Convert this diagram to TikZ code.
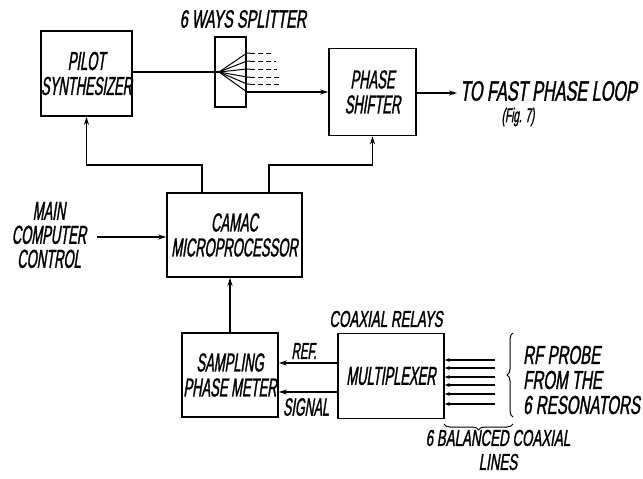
\documentclass[tikz,border=0pt]{standalone}
\usepackage{fontspec}
\setmainfont{Liberation Sans}[FakeSlant=0.15,FakeStretch=0.5,FakeBold=1.2]
\newfontfamily\widelab{Liberation Sans}[FakeSlant=0.15,FakeStretch=0.58,FakeBold=1.2]
\usetikzlibrary{arrows.meta,decorations.pathreplacing}
\tikzset{
  box/.style={draw,line width=1.6pt,inner sep=0pt,align=center,font=\fontsize{26}{25}\selectfont},
  lab/.style={inner sep=0pt,align=center,font=\fontsize{26}{24}\selectfont},
  conn/.style={line width=1.2pt},
  arr/.style={conn,-{Stealth[length=8pt,width=5pt]}},
  sarr/.style={conn,-{Stealth[length=5pt,width=4pt]}},
}
\begin{document}
\begin{tikzpicture}[x=1pt,y=-1pt]
\useasboundingbox (0,0) rectangle (643,479);
% boxes
\node[box,minimum width=91pt,minimum height=85pt] (pilot) at (86.5,73.5) {PILOT\\SYNTHESIZER};
\node[draw,line width=1.6pt,minimum width=31pt,minimum height=70pt,inner sep=0pt] (split) at (230.5,72) {};
\node[box,minimum width=87pt,minimum height=87pt] (ps) at (372.5,92) {PHASE\\SHIFTER};
\node[box,minimum width=135pt,minimum height=84pt] (camac) at (234.5,235) {CAMAC\\MICROPROCESSOR};
\node[box,minimum width=96pt,minimum height=84pt] (samp) at (230,375) {SAMPLING\\PHASE METER};
\node[box,minimum width=106pt,minimum height=85pt] (mux) at (391,376) {MULTIPLEXER};
% labels
\node[lab,font=\widelab\fontsize{25}{24}\selectfont] (splab) at (243,19) {6 WAYS SPLITTER};
\node[lab,font=\widelab\fontsize{28}{26}\selectfont,anchor=west] (fast) at (460,91) {TO FAST PHASE LOOP};
\node[lab,font=\fontsize{20}{20}\selectfont] (fig) at (518,117) {(Fig. 7)};
\node[lab] (mcc) at (49,235) {MAIN\\COMPUTER\\CONTROL};
\node[lab,font=\widelab\fontsize{23}{22}\selectfont] (relays) at (386,319) {COAXIAL RELAYS};
\node[lab,font=\fontsize{23}{22}\selectfont] (ref) at (304,351) {REF.};
\node[lab,font=\fontsize{25}{24}\selectfont] (sig) at (306,407) {SIGNAL};
\node[lab,font=\widelab\fontsize{26}{25}\selectfont,align=left,anchor=west] (rf) at (523,380) {RF PROBE\\FROM THE\\6 RESONATORS};
\node[lab,font=\widelab\fontsize{23}{24}\selectfont] (bal) at (498,450) {6 BALANCED COAXIAL\\LINES};
% splitter fan
\coordinate (sp) at (219,72);
\draw[conn] (pilot.east |- sp) -- (sp);
\foreach \yy/\xe in {53/274,61/276,69/277,77/279,84/281}{
  \draw[line width=1pt] (sp) -- (247,\yy) -- (250,\yy);
  \draw[line width=1pt,dash pattern=on 5pt off 3pt] (250,\yy) -- (\xe,\yy);
}
\coordinate (fanlast) at (247,92);
\draw[line width=1pt] (sp) -- (fanlast);
\draw[arr] (fanlast) -- (ps.west |- fanlast);
% output
\coordinate (outend) at (457,93);
\draw[arr] (ps.east |- outend) -- (outend);
% camac to pilot / phase shifter
\coordinate (c1) at (202,165);
\coordinate (c2) at (269,165);
\draw[arr] (camac.north -| c1) -- (c1) -- (c1 -| pilot.south) -- (pilot.south);
\draw[arr] (camac.north -| c2) -- (c2) -- (c2 -| ps.south) -- (ps.south);
% main computer
\draw[arr] (97,237) coordinate (mcend) -- (camac.west |- mcend);
% sampling to camac
\draw[arr] (samp.north) -- (samp.north |- camac.south);
% mux to sampling
\coordinate (r1) at (0,363);
\coordinate (r2) at (0,392);
\draw[arr] (mux.west |- r1) -- (samp.east |- r1);
\draw[arr] (mux.west |- r2) -- (samp.east |- r2);
% six lines into mux
\foreach \yy in {360,368,377,385,394,404}{
  \draw[sarr] (495,\yy) -- (mux.east |- 0,\yy);
}
% braces
\draw[line width=1pt,decorate,decoration={brace,amplitude=6pt}] (513,417) -- (513,333);
\draw[line width=1pt,decorate,decoration={brace,amplitude=6pt}] (513,424) -- (444,424);
\end{tikzpicture}
\end{document}
